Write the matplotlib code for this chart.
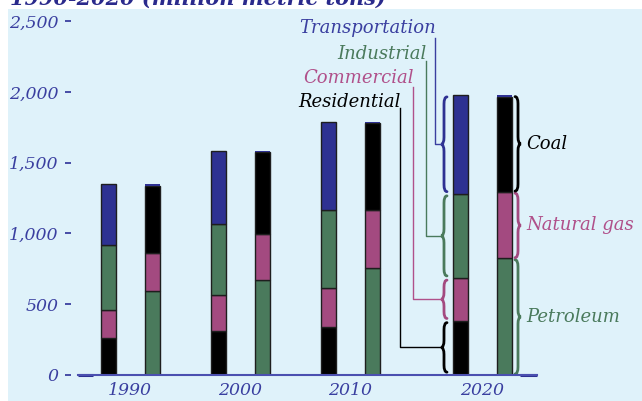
import numpy as np
import matplotlib
matplotlib.use("Agg")
import matplotlib.pyplot as plt
from matplotlib.path import Path as MplPath
from matplotlib.patches import PathPatch, Rectangle

# --- data (million metric tons CO2) ---
years = ["1990", "2000", "2010", "2020"]
group_pos = [0, 1, 2, 3.2]          # 2020 pushed right to leave room for labels

# by sector (left bar of each pair)
residential = [257, 311, 335, 380]
commercial = [200, 252, 280, 301]
industrial = [458, 505, 549, 596]
transportation = [433, 516, 625, 700]

# by fuel (right bar of each pair)
petroleum = [592, 670, 755, 823]
natural_gas = [268, 327, 412, 471]
coal = [478, 577, 612, 673]
other = [10, 10, 10, 10]

yticks = [0, 500, 1000, 1500, 2000, 2500]

BG = "#dff2fa"
BLUE = "#2e3192"
GREEN = "#4a7a5c"
PINK = "#a34a80"
BLACK = "#000000"
AXBLUE = "#4b50b0"
TXTBLUE = "#3a3fa0"
TXTPINK = "#b0508a"
EDGE = "#1e1e1e"

W, H = 642, 401
fig = plt.figure(figsize=(W / 100, H / 100), dpi=100)
fig.patch.set_facecolor("white")

# title, mostly cut off at the top of the picture
fig.text(10 / W, 1 - 5 / H, "1990-2020 (million metric tons)", fontsize=15,
         family="DejaVu Serif", style="italic", weight="bold", color="#2a2a8c",
         ha="left", va="baseline", zorder=0)
fig.patches.append(Rectangle((8 / W, 0), 1, 1 - 9 / H, transform=fig.transFigure,
                             facecolor=BG, edgecolor="none", zorder=1))

ax = fig.add_axes([78 / W, (H - 374.7) / H, (537 - 78) / W, 353.4 / H])
ax.set_zorder(2)
ax.patch.set_visible(False)
ax.set_xlim(-52 / 110, 407 / 110)
ax.set_ylim(0, 2500)

px_x = np.diff(ax.get_xlim())[0] / ax.bbox.width   # data units per pixel
px_y = np.diff(ax.get_ylim())[0] / ax.bbox.height

bw = 15 * px_x
off = 22 * px_x
gp = np.array(group_pos)
xs = gp - off
xf = gp + off

bar_kw = dict(width=bw, edgecolor=EDGE, linewidth=1)
b = np.zeros(4)
for vals, col in [(residential, BLACK), (commercial, PINK), (industrial, GREEN), (transportation, BLUE)]:
    ax.bar(xs, vals, bottom=b, color=col, **bar_kw)
    b = b + np.array(vals)
b = np.zeros(4)
for vals, col in [(petroleum, GREEN), (natural_gas, PINK), (coal, BLACK)]:
    ax.bar(xf, vals, bottom=b, color=col, **bar_kw)
    b = b + np.array(vals)
ax.bar(xf, other, bottom=b, color=BLUE, width=bw, linewidth=0)

for s in ["top", "right", "left"]:
    ax.spines[s].set_visible(False)
ax.spines["left"].set_position(("outward", 5))
ax.spines["bottom"].set_color(AXBLUE)
ax.spines["bottom"].set_linewidth(1.5)
ax.hlines(0, -52 / 110, -52 / 110 + 15 * px_x, color=BLUE, lw=2.2, clip_on=False)
ax.hlines(0, 407 / 110 - 17 * px_x, 407 / 110, color=BLUE, lw=2.2, clip_on=False)

ax.set_yticks(yticks)
ax.set_yticklabels([f"{v:,}" for v in yticks])
ax.tick_params(axis="y", colors=TXTBLUE, length=4, width=1.3, pad=5, labelsize=12.5)
ax.set_xticks(gp)
ax.set_xticklabels(years)
ax.tick_params(axis="x", length=0, pad=5, labelsize=12.5, labelcolor=TXTBLUE)
for lab in ax.get_yticklabels() + ax.get_xticklabels():
    lab.set_family("DejaVu Serif")
    lab.set_style("italic")


def brace(x, y0, y1, half, color, side):
    """Curly brace between y0 and y1; straight part at x, tip pointing to `side` (-1 left, +1 right)."""
    ym = (y0 + y1) / 2
    h = half * px_x
    r = min(7 * px_y, (y1 - y0) / 4)
    t = x + side * h   # tip
    e = x - side * h   # hook ends
    verts = [(e, y1), (x, y1), (x, y1 - r),
             (x, ym + r),
             (x, ym), (t, ym),
             (x, ym), (x, ym - r),
             (x, y0 + r),
             (x, y0), (e, y0)]
    codes = [MplPath.MOVETO, MplPath.CURVE3, MplPath.CURVE3,
             MplPath.LINETO,
             MplPath.CURVE3, MplPath.CURVE3,
             MplPath.CURVE3, MplPath.CURVE3,
             MplPath.LINETO,
             MplPath.CURVE3, MplPath.CURVE3]
    ax.add_patch(PathPatch(MplPath(verts, codes), facecolor="none", edgecolor=color,
                           lw=2, capstyle="round", clip_on=False))
    return t, ym


txt_kw = dict(family="DejaVu Serif", style="italic", fontsize=13, clip_on=False)

# sector labels with leader lines to braces left of the 2020 sector bar
last = 3
sector_vals = [residential[last], commercial[last], industrial[last], transportation[last]]
sector_names = ["Residential", "Commercial", "Industrial", "Transportation"]
sector_cols = [BLACK, PINK, GREEN, BLUE]
label_cols = [BLACK, TXTPINK, GREEN, TXTBLUE]
lead_dx = [-60.3, -47, -34.3, -25.3]        # px from 2020 sector bar centre
lead_top = [1885, 2034, 2218, 2380]
text_base = [1895, 2060, 2230, 2418]
bx = xs[last] - 16 * px_x
bottom = 0
for v, name, c, lc, dx, top, tb in zip(sector_vals, sector_names, sector_cols, label_cols,
                                      lead_dx, lead_top, text_base):
    tip, ym = brace(bx, bottom + 18, bottom + v - 12, 3, c, -1)
    vx = xs[last] + dx * px_x
    ax.plot([vx, vx, tip], [top, ym, ym], color=lc, lw=1, clip_on=False)
    ax.text(vx + 1 * px_x, tb, name, color=lc, ha="right", va="baseline", **txt_kw)
    bottom += v

# fuel labels right of the 2020 fuel bar
fuel_vals = [petroleum[last], natural_gas[last], coal[last] + other[last]]
fuel_names = ["Petroleum", "Natural gas", "Coal"]
fuel_cols = [GREEN, PINK, BLACK]
fuel_txt = [GREEN, TXTPINK, BLACK]
fx = xf[last] + 14 * px_x
bottom = 0
for v, name, c, tc in zip(fuel_vals, fuel_names, fuel_cols, fuel_txt):
    tip, ym = brace(fx, bottom + 5, bottom + v - 10, 3, c, 1)
    ax.text(tip + 5 * px_x, ym, name, color=tc, ha="left", va="center", **txt_kw)
    bottom += v

fig.savefig("out.png", dpi=100)
